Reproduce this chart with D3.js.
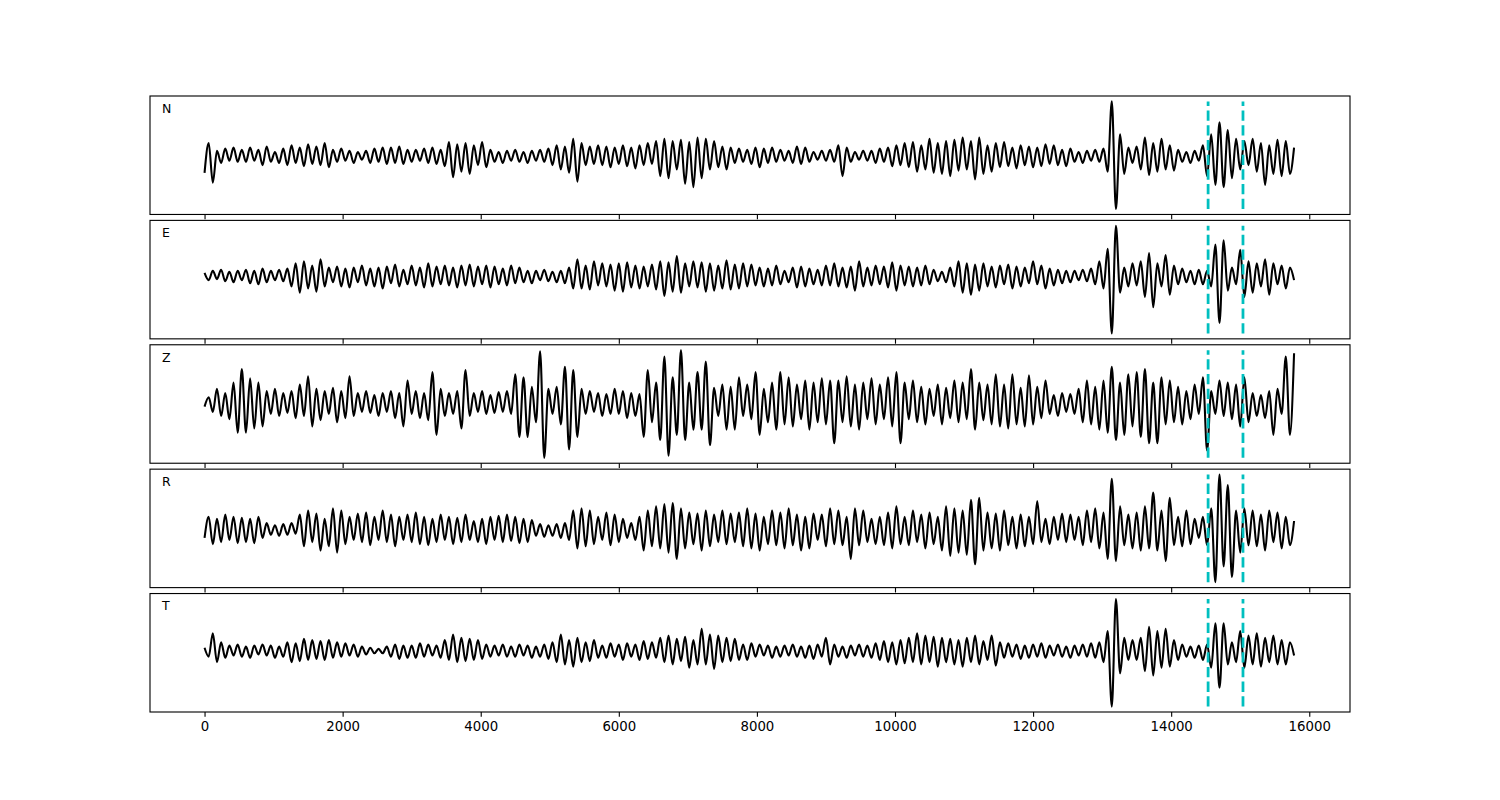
<!DOCTYPE html>
<html><head><meta charset="utf-8">
<script src="https://cdn.jsdelivr.net/npm/d3@7"></script>
<style>body{margin:0;background:#fff}svg{display:block}</style>
</head><body>
<script>
// ---- data ----
const channels = ["N", "E", "Z", "R", "T"];
const sampleStep = 60; // time between successive extrema samples
const seriesN = [
-15,12,-24,5,-6,7,-4,8,-5,6, -5,8,-4,6,-8,9,-5,4,-6,7, -8,10,-6,8,-9,11,-7,9,-8,12,
-10,6,-5,7,-4,5,-6,4,-3,5, -6,7,-5,8,-7,8,-6,9,-7,6, -5,6,-4,7,-6,8,-7,6,-9,13,
-19,11,-14,12,-16,10,-8,13,-10,6, -5,4,-6,5,-4,6,-5,4,-6,5, -4,6,-5,7,-8,10,-12,9,-15,16,
-23,12,-8,9,-7,10,-8,9,-10,8, -7,10,-9,8,-11,10,-8,12,-7,14, -18,16,-20,14,-12,15,-25,13,-28,17,
-20,16,-12,14,-10,9,-12,8,-6,7, -5,6,-7,8,-10,7,-6,8,-5,6, -4,5,-6,9,-7,8,-5,4,-3,5,
-4,6,-5,10,-18,8,-5,4,-3,5, -4,5,-6,7,-5,8,-9,10,-8,12, -10,13,-14,10,-12,16,-15,12,-16,14,
-18,15,-13,17,-12,14,-21,17,-16,10, -14,12,-10,13,-9,8,-11,10,-8,9, -10,8,-9,11,-7,10,-8,6,-9,7,
-5,4,-6,5,-4,6,-5,7,-14,50, -48,20,-16,8,-6,9,-12,17,-17,12, -14,16,-12,10,-13,6,-5,4,-6,5,
-4,10,-18,20,-26,31,-28,24,-20,16, -12,14,-8,16,-14,12,-26,10,-16,15, -18,14,-16,8
];
const seriesE = [
3,-4,5,-3,6,-5,4,-6,5,-4, 6,-7,5,-8,7,-6,5,-4,6,-5, 7,-10,12,-16,14,-12,10,-15,16,-10,
8,-6,9,-10,7,-11,8,-6,10,-9, 7,-10,8,-12,9,-7,11,-10,6,-8, 10,-9,8,-11,12,-10,9,-8,10,-9,
8,-11,10,-9,11,-10,9,-8,10,-11, 9,-8,7,-9,10,-7,8,-6,5,-7, 5,-4,6,-5,4,-6,5,-7,8,-12,
16,-12,10,-13,14,-9,12,-10,11,-14, 12,-15,13,-11,10,-12,9,-10,11,-13, 14,-19,13,-15,19,-16,12,-10,14,-11,
13,-15,12,-14,10,-12,15,-13,11,-12, 12,-10,11,-9,8,-10,7,-9,10,-8, 5,-6,8,-11,9,-10,7,-8,6,-9,
10,-9,12,-10,8,-11,9,-14,14,-10, 8,-9,10,-8,9,-11,13,-14,10,-9, 9,-10,8,-9,10,-8,6,-5,4,-6,
8,-10,14,-16,12,-18,11,-14,12,-10, 9,-11,10,-8,11,-12,9,-10,8,-7, 14,-8,10,-12,7,-9,6,-7,5,-6,
5,-4,6,-5,7,-8,14,-12,26,-55, 48,-16,8,-10,12,-9,14,-20,22,-30, 12,-10,20,-18,10,-8,7,-6,5,-8,
6,-8,5,-10,30,-45,34,-14,8,-8, 25,-20,14,-16,12,-10,16,-18,12,-8, 10,-12,8,-4
];
const seriesZ = [
-3,6,-8,14,-12,10,-15,20,-28,33, -28,24,-24,20,-22,12,-10,14,-12,10, -9,12,-14,18,-12,26,-22,14,-16,12,
-10,15,-18,12,-14,26,-12,10,-8,12, -9,8,-12,10,-8,12,-14,10,-22,22, -10,12,-14,10,-16,30,-30,14,-12,10,
-10,12,-24,32,-12,10,-8,12,-10,8, -9,11,-8,12,-10,28,-32,25,-32,16, -18,50,-52,14,-10,16,-20,35,-44,32,
-32,14,-10,12,-8,10,-12,9,-10,14, -10,12,-14,10,-12,9,-32,32,-18,20, -35,45,-50,25,-30,51,-35,20,-25,30,
-25,40,-40,15,-12,18,-25,16,-25,25, -12,18,-15,30,-30,14,-18,20,-25,30, -20,25,-22,18,-15,22,-25,20,-18,24,
-20,22,-38,22,-18,26,-22,18,-25,20, -15,24,-20,18,-15,25,-22,30,-38,20, -15,22,-18,16,-20,14,-12,18,-20,15,
-14,22,-18,20,-15,33,-25,20,-16,18, -20,28,-22,18,-24,28,-20,15,-22,27, -20,16,-14,22,-10,8,-12,10,-8,9,
-10,14,-18,22,-20,16,-25,22,-28,35, -35,20,-30,28,-22,30,-32,33,-38,20, -38,25,-20,22,-18,16,-20,12,-15,18,
-10,25,-45,12,-10,22,-12,20,-15,18, -22,25,-18,10,-12,8,-14,12,-30,14, -10,45,-30,48
];
const seriesR = [
-8,12,-14,10,-12,14,-10,12,-13,11, -12,10,-13,12,-8,6,-5,4,-6,5, -5,6,-4,14,-16,18,-12,15,-20,10,
-16,20,-22,18,-14,12,-10,15,-12,16, -15,12,-10,18,-12,14,-16,12,-10,14, -12,16,-14,12,-15,10,-12,14,-10,12,
-14,11,-12,14,-10,8,-12,10,-14,12, -10,13,-12,14,-11,12,-13,10,-12,9, -6,5,-7,4,-6,5,-8,6,-10,18,
-18,20,-16,18,-14,12,-10,16,-15,14, -12,10,-8,6,-10,12,-20,18,-16,22, -18,24,-22,25,-28,20,-18,16,-14,15,
-20,18,-16,14,-12,18,-14,15,-12,16, -16,20,-18,15,-20,12,-14,18,-15,16, -18,20,-15,14,-20,12,-18,15,-10,14,
-16,20,-14,18,-15,12,-28,20,-15,18, -12,10,-14,12,-15,16,-18,22,-14,12, -15,18,-12,14,-18,16,-14,12,-20,22,
-25,20,-22,18,-24,28,-33,30,-20,16, -18,15,-20,18,-15,12,-18,14,-16,12, -14,27,-12,10,-14,12,-10,15,-12,14,
-10,12,-15,18,-12,20,-18,16,-28,48, -30,22,-15,14,-18,16,-20,22,-18,35, -20,18,-30,30,-15,12,-16,18,-14,10,
-8,12,-15,20,-50,52,-35,42,-45,18, -22,20,-15,18,-16,14,-20,18,-12,16, -18,12,-15,8
];
const seriesT = [
3,-5,16,-10,8,-6,5,-4,6,-5, 4,-6,5,-3,6,-4,5,-6,4,-5, 8,-10,7,-9,11,-8,10,-7,9,-8,
10,-6,8,-5,7,-4,6,-5,4,-3, 3,-2,2,-2,4,-5,6,-7,5,-6, 5,-6,7,-5,6,-4,5,-6,10,-8,
15,-10,12,-9,11,-8,10,-7,6,-5, 5,-4,6,-5,4,-5,6,-4,5,-6, 4,-5,6,-7,8,-10,15,-12,10,-14,
12,-10,8,-9,10,-6,5,-6,7,-5, 6,-8,7,-5,6,-8,9,-7,8,-6, 12,-10,14,-12,11,-9,13,-15,10,-12,
20,-12,15,-16,14,-10,12,-9,11,-8, 6,-8,7,-5,6,-4,5,-6,4,-5, 5,-4,6,-5,4,-6,5,-7,6,-5,
12,-12,6,-5,4,-6,5,-4,6,-5, 5,-6,7,-8,9,-10,8,-12,10,-11, 12,-10,16,-12,14,-10,13,-14,12,-10,
11,-12,10,-14,12,-10,14,-12,9,-8, 14,-13,8,-6,7,-5,6,-7,5,-6, 6,-5,7,-6,5,-4,6,-5,4,-6,
5,-4,6,-5,7,-6,8,-10,18,-50, 47,-20,12,-8,10,-8,12,-18,22,-22, 18,-15,20,-14,10,-8,6,-5,4,-6,
5,-8,6,-15,25,-33,25,-12,8,-10, 18,-15,14,-12,16,-14,12,-10,14,-12, 10,-12,8,-4
];
const allSeries = [seriesN, seriesE, seriesZ, seriesR, seriesT];
const pickTimes = [14535, 15040];
const xTicks = [0, 2000, 4000, 6000, 8000, 10000, 12000, 14000, 16000];
const xDomain = [-790, 16590];

// ---- layout ----
const W = 1500, H = 800;
const mLeft = 150, mRight = 1350, mTop = 96, mBottom = 712;
const hspace = 0.05, nP = channels.length;
const panelH = (mBottom - mTop) / (nP + (nP - 1) * hspace);
const gap = panelH * hspace;
const pt = 100 / 72;

const svg = d3.select("body").append("svg").attr("width", W).attr("height", H)
  .style("font-family", "'DejaVu Sans', sans-serif");

const x = d3.scaleLinear().domain(xDomain).range([mLeft, mRight]);

channels.forEach((ch, i) => {
  const vals = allSeries[i];
  const data = vals.map((v, j) => ({ t: j * sampleStep, v }));
  const y0 = mTop + i * (panelH + gap), y1 = y0 + panelH;
  const [mn, mx] = d3.extent(vals);
  const pad = (mx - mn) * 0.05;
  const y = d3.scaleLinear().domain([mn - pad, mx + pad]).range([y1, y0]);

  const g = svg.append("g");
  g.append("clipPath").attr("id", "clip" + i).append("rect")
    .attr("x", mLeft).attr("y", y0).attr("width", mRight - mLeft).attr("height", panelH);

  const line = d3.line().x(d => x(d.t)).y(d => y(d.v)).curve(d3.curveMonotoneX);
  g.append("path").datum(data).attr("d", line).attr("fill", "none")
    .attr("stroke", "#000").attr("stroke-width", 1.5 * pt).attr("stroke-linejoin", "round")
    .attr("clip-path", `url(#clip${i})`);

  g.selectAll("line.pick").data(pickTimes).enter().append("line")
    .attr("class", "pick")
    .attr("x1", d => x(d)).attr("x2", d => x(d))
    .attr("y1", y(mn)).attr("y2", y(mx))
    .attr("stroke", "#00bfbf").attr("stroke-width", 2 * pt)
    .attr("stroke-dasharray", `${3.7 * 2 * pt},${1.6 * 2 * pt}`);

  g.append("rect").attr("x", mLeft).attr("y", y0).attr("width", mRight - mLeft).attr("height", panelH)
    .attr("fill", "none").attr("stroke", "#000").attr("stroke-width", 0.8 * pt);

  g.append("text").attr("x", mLeft + 0.01 * (mRight - mLeft)).attr("y", y1 - 0.857 * panelH)
    .attr("font-size", 12.5).attr("fill", "#000").text(ch);

  const axis = d3.axisBottom(x).tickValues(xTicks).tickSize(3.5 * pt).tickPadding(3.5 * pt)
    .tickFormat(i === nP - 1 ? d3.format("d") : () => "");
  const ag = g.append("g").attr("transform", `translate(0,${y1})`).call(axis);
  ag.select(".domain").remove();
  ag.selectAll(".tick line").attr("stroke", "#000").attr("stroke-width", 0.8 * pt);
  ag.selectAll(".tick text").attr("fill", "#000").attr("font-size", 13.3)
    .style("font-family", "'DejaVu Sans', sans-serif");
});
</script>
</body></html>
